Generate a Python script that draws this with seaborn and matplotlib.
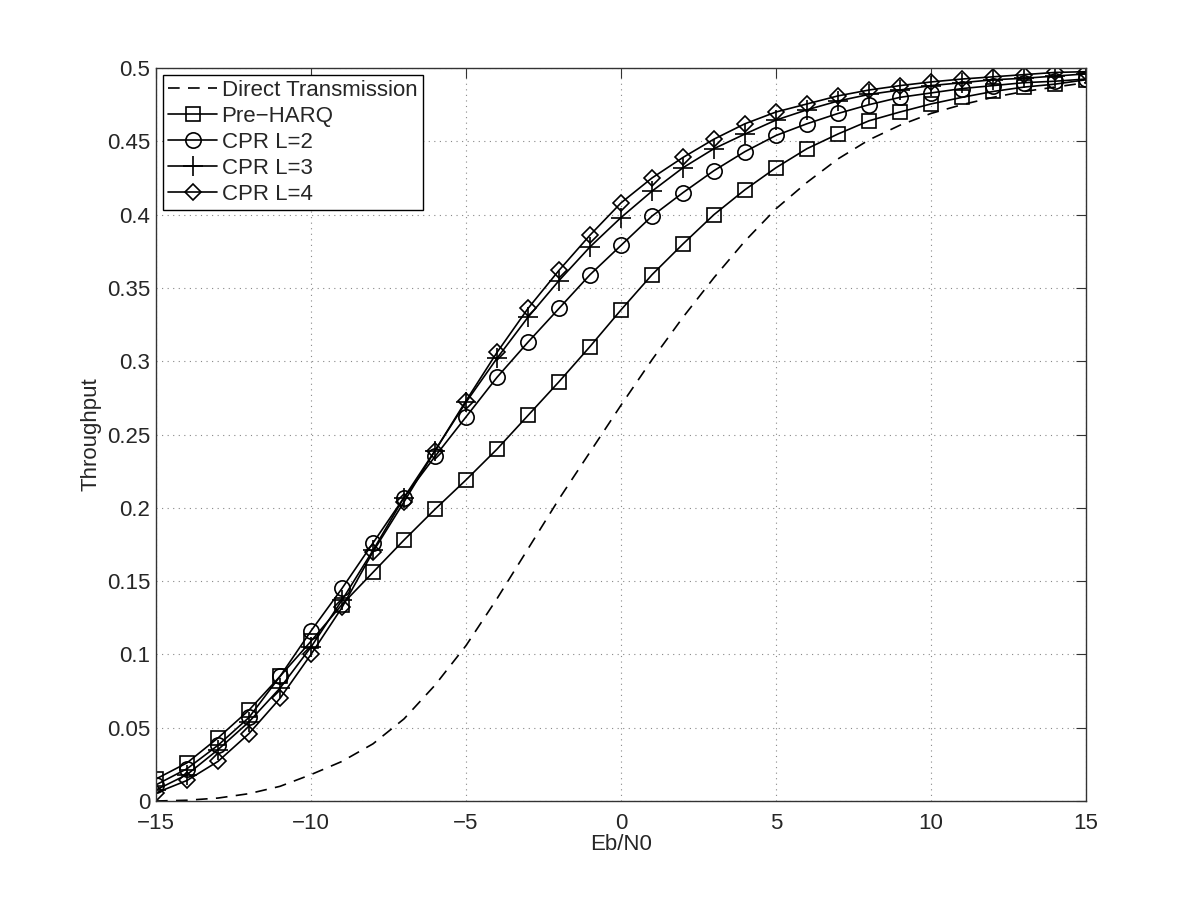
import numpy as np
import pandas as pd
import matplotlib
matplotlib.use("Agg")
import matplotlib.pyplot as plt
import seaborn as sns

ebn0 = list(range(-15, 16))

direct = [0.0, 0.0005, 0.002, 0.005, 0.010, 0.018, 0.027, 0.039, 0.056, 0.079,
          0.106, 0.138, 0.172, 0.206, 0.238, 0.270, 0.301, 0.330, 0.357, 0.382,
          0.404, 0.422, 0.438, 0.451, 0.461, 0.469, 0.475, 0.480, 0.484, 0.487, 0.490]

pre_harq = [0.015, 0.026, 0.043, 0.062, 0.085, 0.109, 0.134, 0.156, 0.178, 0.199,
            0.219, 0.240, 0.263, 0.286, 0.310, 0.335, 0.359, 0.380, 0.400, 0.417,
            0.432, 0.445, 0.455, 0.464, 0.470, 0.4755, 0.480, 0.484, 0.487, 0.489, 0.492]

cpr_l2 = [0.011, 0.022, 0.038, 0.057, 0.085, 0.116, 0.145, 0.176, 0.207, 0.235,
          0.262, 0.289, 0.313, 0.336, 0.359, 0.379, 0.399, 0.415, 0.430, 0.443,
          0.454, 0.462, 0.469, 0.475, 0.480, 0.483, 0.486, 0.488, 0.490, 0.491, 0.4925]

cpr_l3 = [0.0075, 0.018, 0.035, 0.054, 0.077, 0.105, 0.137, 0.171, 0.207, 0.239,
          0.272, 0.302, 0.330, 0.355, 0.378, 0.398, 0.416, 0.432, 0.445, 0.455,
          0.4645, 0.4715, 0.4775, 0.482, 0.485, 0.488, 0.490, 0.492, 0.493, 0.4945, 0.496]

cpr_l4 = [0.0055, 0.014, 0.027, 0.046, 0.070, 0.100, 0.132, 0.170, 0.204, 0.239,
          0.273, 0.306, 0.336, 0.362, 0.386, 0.408, 0.425, 0.439, 0.4515, 0.462,
          0.470, 0.4755, 0.481, 0.485, 0.488, 0.4905, 0.4925, 0.494, 0.4955, 0.497, 0.4975]

series = {
    "Direct Transmission": direct,
    "Pre\u2212HARQ": pre_harq,
    "CPR L=2": cpr_l2,
    "CPR L=3": cpr_l3,
    "CPR L=4": cpr_l4,
}
df = pd.concat(
    [pd.DataFrame({"Eb/N0": ebn0, "Throughput": v, "scheme": k}) for k, v in series.items()],
    ignore_index=True,
)

sns.set_style("white")
plt.rcParams["font.family"] = ["Liberation Sans", "DejaVu Sans"]

fig = plt.figure(figsize=(12, 9.01), dpi=100)
ax = fig.add_axes([0.13, 0.111, 0.775, 0.8135])

# line style / marker per scheme
styles = {
    "Direct Transmission": ((0, (7, 5)), None, 0),
    "Pre\u2212HARQ": ("-", "s", 10),
    "CPR L=2": ("-", "o", 11),
    "CPR L=3": ("-", "+", 14),
    "CPR L=4": ("-", "D", 8.5),
}
for name in series:
    ls, mk, ms = styles[name]
    sub = df[df["scheme"] == name]
    sns.lineplot(data=sub, x="Eb/N0", y="Throughput", ax=ax, color="black",
                 linewidth=1.2, linestyle=ls, marker=mk,
                 markersize=ms, markerfacecolor="none", markeredgecolor="black",
                 markeredgewidth=1.2, label=name)

ax.set_xlim(-15, 15)
ax.set_ylim(0, 0.5)
ax.set_xticks(range(-15, 16, 5))
ax.set_yticks(np.arange(0, 0.51, 0.05))
ax.set_yticklabels(["0", "0.05", "0.1", "0.15", "0.2", "0.25", "0.3", "0.35", "0.4", "0.45", "0.5"])
ax.grid(True, linestyle=(0, (1, 4)), color="#888888", linewidth=0.8)
ax.tick_params(direction="in", top=True, right=True, length=7, labelsize=16, color="#333333")
ax.tick_params(axis="x", pad=9)
ax.tick_params(axis="y", pad=4)
for s in ax.spines.values():
    s.set_color("#333333")
    s.set_linewidth(1.0)
ax.set_xlabel("Eb/N0", fontsize=16, labelpad=0)
ax.set_ylabel("Throughput", fontsize=16, labelpad=4)

leg = ax.legend(loc="upper left", fontsize=16, frameon=True, fancybox=False,
                edgecolor="black", framealpha=1, borderaxespad=0.3,
                handlelength=2.2, handletextpad=0.2, labelspacing=0.22,
                borderpad=0.25)
leg.get_frame().set_linewidth(1.0)

fig.savefig("out.png", dpi=100)
